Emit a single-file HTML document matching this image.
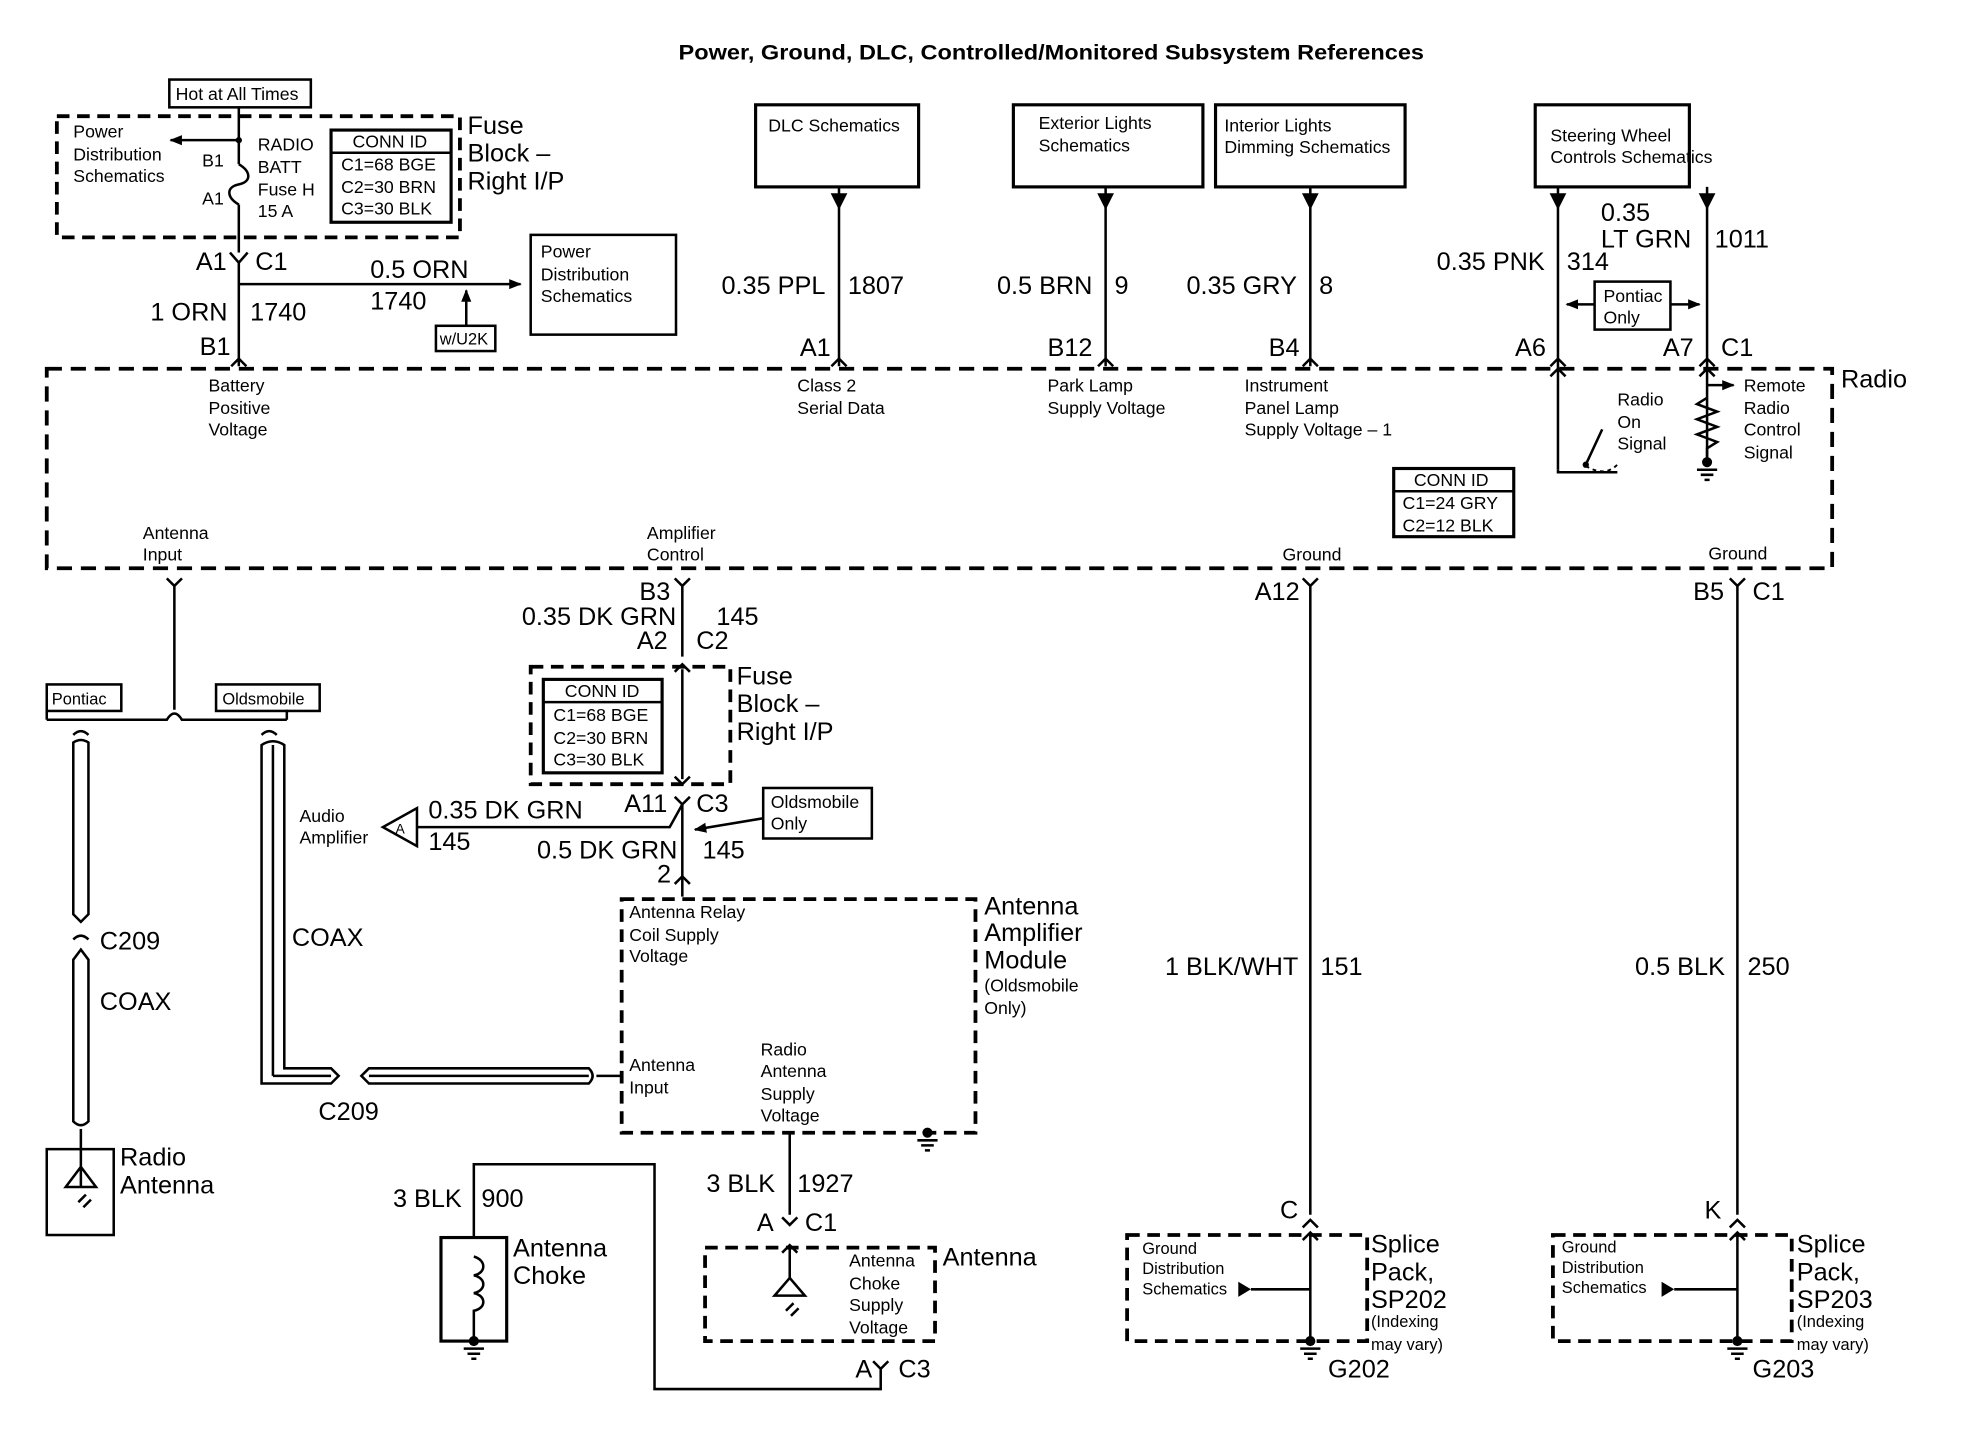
<!DOCTYPE html>
<html><head><meta charset="utf-8"><style>
html,body{margin:0;padding:0;background:#fff;}
svg{display:block;}
text{font-family:"Liberation Sans",sans-serif;fill:#000;}
.s{font-size:14px;}
.m{font-size:20px;}
.l{font-size:20px;}
</style></head><body>
<svg width="1980" height="1456" viewBox="0 0 1567 1153" preserveAspectRatio="none" xmlns="http://www.w3.org/2000/svg">
<defs>
<marker id="ar" markerWidth="10" markerHeight="10" refX="9" refY="5" orient="auto" markerUnits="userSpaceOnUse"><path d="M0,1 L10,5 L0,9 z" fill="#000"/></marker>
</defs>
<text x="537" y="47" textLength="590" lengthAdjust="spacingAndGlyphs" style="font-size:17px;font-weight:bold">Power, Ground, DLC, Controlled/Monitored Subsystem References</text>

<rect x="134" y="63" width="112" height="22" fill="none" stroke="#000" stroke-width="2"/>
<text x="139" y="79" class="s">Hot at All Times</text>
<rect x="45" y="92" width="319" height="96" fill="none" stroke="#000" stroke-width="3" stroke-dasharray="10,6"/>
<line x1="189" y1="85" x2="189" y2="130" stroke="#000" stroke-width="2"/>
<path d="M189,130 C199,136 199,144 189,146 C179,148 179,156 189,162" fill="none" stroke="#000" stroke-width="2"/>
<line x1="189" y1="162" x2="189" y2="200" stroke="#000" stroke-width="2"/>
<circle cx="189" cy="111" r="2.5"/>
<line x1="189" y1="111" x2="135" y2="111" stroke="#000" stroke-width="2" marker-end="url(#ar)"/>
<text x="58" y="109" class="s">Power</text><text x="58" y="127" class="s">Distribution</text><text x="58" y="144" class="s">Schematics</text>
<text x="160" y="132" class="s">B1</text><text x="160" y="162" class="s">A1</text>
<text x="204" y="119" class="s">RADIO</text><text x="204" y="137" class="s">BATT</text><text x="204" y="155" class="s">Fuse H</text><text x="204" y="172" class="s">15 A</text>
<rect x="262" y="103" width="95" height="73" fill="none" stroke="#000" stroke-width="2.5"/>
<line x1="262" y1="121" x2="357" y2="121" stroke="#000" stroke-width="2"/>
<text x="279" y="117" class="s">CONN ID</text><text x="270" y="135" class="s">C1=68 BGE</text><text x="270" y="153" class="s">C2=30 BRN</text><text x="270" y="170" class="s">C3=30 BLK</text>
<text x="370" y="106" class="l">Fuse</text><text x="370" y="128" class="l">Block –</text><text x="370" y="150" class="l">Right I/P</text>
<path d="M182,200 L189,208 L196,200 M189,208 L189,290" fill="none" stroke="#000" stroke-width="2"/>
<text x="155" y="214" class="m">A1</text><text x="202" y="214" class="m">C1</text>
<line x1="189" y1="225" x2="412" y2="225" stroke="#000" stroke-width="2" marker-end="url(#ar)"/>
<text x="293" y="220" class="m">0.5 ORN</text><text x="293" y="245" class="m">1740</text>
<rect x="345" y="258" width="47" height="20" fill="none" stroke="#000" stroke-width="2"/>
<text x="348" y="273" style="font-size:13px">w/U2K</text>
<line x1="369" y1="258" x2="369" y2="230" stroke="#000" stroke-width="2" marker-end="url(#ar)"/>
<rect x="420" y="186" width="115" height="79" fill="none" stroke="#000" stroke-width="2"/>
<text x="428" y="204" class="s">Power</text><text x="428" y="222" class="s">Distribution</text><text x="428" y="239" class="s">Schematics</text>
<text x="119" y="254" class="m">1 ORN</text><text x="198" y="254" class="m">1740</text><text x="158" y="281" class="m">B1</text>
<path d="M183,290 L189,284 L195,290" fill="none" stroke="#000" stroke-width="2"/>

<rect x="37" y="292" width="1413" height="158" fill="none" stroke="#000" stroke-width="3" stroke-dasharray="12,7"/>
<text x="1457" y="307" class="l">Radio</text>
<text x="165" y="310" class="s">Battery</text><text x="165" y="328" class="s">Positive</text><text x="165" y="345" class="s">Voltage</text>
<text x="631" y="310" class="s">Class 2</text><text x="631" y="328" class="s">Serial Data</text>
<text x="829" y="310" class="s">Park Lamp</text><text x="829" y="328" class="s">Supply Voltage</text>
<text x="985" y="310" class="s">Instrument</text><text x="985" y="328" class="s">Panel Lamp</text><text x="985" y="345" class="s">Supply Voltage – 1</text>

<g fill="none" stroke="#000" stroke-width="2.5">
<rect x="598" y="83" width="129" height="65"/>
<rect x="802" y="83" width="150" height="65"/>
<rect x="962" y="83" width="150" height="65"/>
<rect x="1215" y="83" width="122" height="65"/>
</g>
<text x="608" y="104" class="s">DLC Schematics</text>
<text x="822" y="102" class="s">Exterior Lights</text><text x="822" y="120" class="s">Schematics</text>
<text x="969" y="104" class="s">Interior Lights</text><text x="969" y="121" class="s">Dimming Schematics</text>
<text x="1227" y="112" class="s">Steering Wheel</text><text x="1227" y="129" class="s">Controls Schematics</text>
<g stroke="#000" stroke-width="2" fill="#000">
<line x1="664" y1="148" x2="664" y2="290"/><path d="M659,154 L669,154 L664,164 z"/>
<line x1="875" y1="148" x2="875" y2="290"/><path d="M870,154 L880,154 L875,164 z"/>
<line x1="1037" y1="148" x2="1037" y2="290"/><path d="M1032,154 L1042,154 L1037,164 z"/>
<line x1="1233" y1="148" x2="1233" y2="372"/><path d="M1228,154 L1238,154 L1233,164 z"/>
<line x1="1351" y1="148" x2="1351" y2="362"/><path d="M1346,154 L1356,154 L1351,164 z"/>
</g>
<g fill="none" stroke="#000" stroke-width="2">
<path d="M658,290 L664,284 L670,290"/><path d="M869,290 L875,284 L881,290"/><path d="M1031,290 L1037,284 L1043,290"/>
<path d="M1227,290 L1233,284 L1239,290"/><path d="M1345,290 L1351,284 L1357,290"/>
<path d="M1227,298 L1233,292 L1239,298"/><path d="M1345,298 L1351,292 L1357,298"/>
</g>
<text x="571" y="233" class="m">0.35 PPL</text><text x="671" y="233" class="m">1807</text>
<text x="789" y="233" class="m">0.5 BRN</text><text x="882" y="233" class="m">9</text>
<text x="939" y="233" class="m">0.35 GRY</text><text x="1044" y="233" class="m">8</text>
<text x="1137" y="214" class="m">0.35 PNK</text><text x="1240" y="214" class="m">314</text>
<text x="1267" y="175" class="m">0.35</text><text x="1267" y="196" class="m">LT GRN</text><text x="1357" y="196" class="m">1011</text>
<rect x="1262" y="223" width="60" height="38" fill="none" stroke="#000" stroke-width="2"/>
<text x="1269" y="239" class="s">Pontiac</text><text x="1269" y="256" class="s">Only</text>
<line x1="1262" y1="241" x2="1240" y2="241" stroke="#000" stroke-width="2" marker-end="url(#ar)"/>
<line x1="1322" y1="241" x2="1345" y2="241" stroke="#000" stroke-width="2" marker-end="url(#ar)"/>
<text x="633" y="282" class="m">A1</text><text x="829" y="282" class="m">B12</text><text x="1004" y="282" class="m">B4</text>
<text x="1199" y="282" class="m">A6</text><text x="1316" y="282" class="m">A7</text><text x="1362" y="282" class="m">C1</text>
<path d="M1233,372 L1233,374 L1280,374 M1255,368 L1268,340" fill="none" stroke="#000" stroke-width="2"/>
<path d="M1255,369 Q1270,378 1280,368" fill="none" stroke="#000" stroke-width="1.5" stroke-dasharray="3,3"/>
<circle cx="1255" cy="368" r="2.5"/>
<text x="1280" y="321" class="s">Radio</text><text x="1280" y="339" class="s">On</text><text x="1280" y="356" class="s">Signal</text>
<line x1="1351" y1="305" x2="1372" y2="305" stroke="#000" stroke-width="2" marker-end="url(#ar)"/>
<path d="M1351,315 L1343,320 L1359,326 L1343,332 L1359,338 L1343,344 L1359,350 L1351,355 L1351,365" fill="none" stroke="#000" stroke-width="2"/>
<circle cx="1351" cy="366" r="4" fill="#000"/>
<path d="M1343,372 L1359,372 M1346,376 L1356,376 M1349,380 L1353,380" stroke="#000" stroke-width="2"/>
<text x="1380" y="310" class="s">Remote</text><text x="1380" y="328" class="s">Radio</text><text x="1380" y="345" class="s">Control</text><text x="1380" y="363" class="s">Signal</text>
<rect x="1103" y="371" width="95" height="54" fill="none" stroke="#000" stroke-width="2.5"/>
<line x1="1103" y1="389" x2="1198" y2="389" stroke="#000" stroke-width="2"/>
<text x="1119" y="385" class="s">CONN ID</text><text x="1110" y="403" class="s">C1=24 GRY</text><text x="1110" y="421" class="s">C2=12 BLK</text>
<text x="113" y="427" class="s">Antenna</text><text x="113" y="444" class="s">Input</text>
<text x="512" y="427" class="s">Amplifier</text><text x="512" y="444" class="s">Control</text>
<text x="1015" y="444" class="s">Ground</text><text x="1352" y="443" class="s">Ground</text>

<g fill="none" stroke="#000" stroke-width="2">
<path d="M132,458 L138,464 L144,458 M138,464 L138,562"/>
<path d="M37,570 L132,570 Q138,560 144,570 L227,570"/>
<path d="M37,570 L37,560 M227,570 L227,562"/>
<path d="M534,458 L540,464 L546,458 M540,464 L540,520"/>
<path d="M1031,458 L1037,464 L1043,458 M1037,464 L1037,962"/>
<path d="M1369,458 L1375,464 L1381,458 M1375,464 L1375,962"/>
<line x1="540" y1="530" x2="540" y2="617"/>
<path d="M534,532 L540,526 L546,532 M534,615 L540,621 L546,615"/>
<path d="M534,631 L540,637 L546,631 M540,637 L540,710"/>
<path d="M540,637 L530,655 L330,655"/>
<path d="M534,700 L540,694 L546,700"/>
</g>
<text x="506" y="475" class="m">B3</text>
<text x="413" y="495" class="m">0.35 DK GRN</text><text x="567" y="495" class="m">145</text>
<text x="504" y="514" class="m">A2</text><text x="551" y="514" class="m">C2</text>
<rect x="420" y="528" width="158" height="93" fill="none" stroke="#000" stroke-width="3" stroke-dasharray="10,6"/>
<rect x="430" y="538" width="94" height="74" fill="none" stroke="#000" stroke-width="2.5"/>
<line x1="430" y1="556" x2="524" y2="556" stroke="#000" stroke-width="2"/>
<text x="447" y="552" class="s">CONN ID</text><text x="438" y="571" class="s">C1=68 BGE</text><text x="438" y="589" class="s">C2=30 BRN</text><text x="438" y="606" class="s">C3=30 BLK</text>
<text x="583" y="542" class="l">Fuse</text><text x="583" y="564" class="l">Block –</text><text x="583" y="586" class="l">Right I/P</text>
<text x="494" y="643" class="m">A11</text><text x="551" y="643" class="m">C3</text>
<text x="339" y="648" class="m">0.35 DK GRN</text><text x="339" y="673" class="m">145</text>
<path d="M330,640 L330,670 L303,655 z" fill="none" stroke="#000" stroke-width="2"/>
<text x="313" y="660" style="font-size:11px">A</text>
<text x="237" y="651" class="s">Audio</text><text x="237" y="668" class="s">Amplifier</text>
<rect x="604" y="624" width="86" height="40" fill="none" stroke="#000" stroke-width="2"/>
<text x="610" y="640" class="s">Oldsmobile</text><text x="610" y="657" class="s">Only</text>
<line x1="604" y1="648" x2="550" y2="657" stroke="#000" stroke-width="2" marker-end="url(#ar)"/>
<text x="425" y="680" class="m">0.5 DK GRN</text><text x="556" y="680" class="m">145</text><text x="520" y="699" class="m">2</text>

<rect x="37" y="542" width="59" height="21" fill="none" stroke="#000" stroke-width="2"/><text x="41" y="558" style="font-size:13px">Pontiac</text>
<rect x="171" y="542" width="82" height="21" fill="none" stroke="#000" stroke-width="2"/><text x="176" y="558" style="font-size:13px">Oldsmobile</text>

<g fill="none" stroke="#000" stroke-width="2">
<path d="M58,582 Q64,576 70,582"/>
<path d="M58,588 L58,724 L64,730 L70,724 L70,588 Q64,584 58,588 z"/>
<path d="M58,744 Q64,738 70,744"/>
<path d="M58,760 L58,888 Q64,894 70,888 L70,760 L64,752 z"/>
<line x1="64" y1="894" x2="64" y2="910"/>
<rect x="37" y="910" width="53" height="68"/>
<path d="M64,910 L64,940 M52,940 L64,924 L76,940 z M68,946 L62,952 M72,950 L66,956"/>
<path d="M207,582 Q213,576 219,582"/>
<path d="M207,590 L207,858 L262,858 L268,852 L262,846 L225,846 L225,590 Q216,584 207,590 z"/>
<line x1="216" y1="590" x2="216" y2="852"/><line x1="216" y1="852" x2="262" y2="852"/>
<path d="M292,846 L286,852 L292,858 L466,858 Q472,852 466,846 z"/>
<line x1="292" y1="852" x2="466" y2="852"/>
<line x1="472" y1="852" x2="492" y2="852"/>
</g>
<text x="79" y="752" class="m">C209</text><text x="79" y="800" class="m">COAX</text>
<text x="231" y="749" class="m">COAX</text><text x="252" y="887" class="m">C209</text>
<text x="95" y="923" class="l">Radio</text><text x="95" y="945" class="l">Antenna</text>

<rect x="492" y="712" width="280" height="185" fill="none" stroke="#000" stroke-width="3" stroke-dasharray="10,6"/>
<text x="498" y="727" class="s">Antenna Relay</text><text x="498" y="745" class="s">Coil Supply</text><text x="498" y="762" class="s">Voltage</text>
<text x="498" y="848" class="s">Antenna</text><text x="498" y="866" class="s">Input</text>
<text x="602" y="836" class="s">Radio</text><text x="602" y="853" class="s">Antenna</text><text x="602" y="871" class="s">Supply</text><text x="602" y="888" class="s">Voltage</text>
<text x="779" y="724" class="l">Antenna</text><text x="779" y="745" class="l">Amplifier</text><text x="779" y="767" class="l">Module</text>
<text x="779" y="785" class="s">(Oldsmobile</text><text x="779" y="803" class="s">Only)</text>
<circle cx="734" cy="897" r="4"/>
<path d="M726,903 L742,903 M729,907 L739,907 M732,911 L736,911" stroke="#000" stroke-width="2"/>
<g fill="none" stroke="#000" stroke-width="2">
<path d="M625,897 L625,962 M619,964 L625,970 L631,964"/>
<path d="M619,992 L625,986 L631,992 M625,986 L625,1012 M613,1026 L625,1012 L637,1026 z M628,1032 L622,1038 M632,1036 L626,1042"/>
<path d="M375,980 L375,922 L518,922 L518,1100 L697,1100 L697,1084 M691,1078 L697,1084 L703,1078"/>
</g>
<text x="559" y="944" class="m">3 BLK</text><text x="631" y="944" class="m">1927</text>
<text x="599" y="975" class="m">A</text><text x="637" y="975" class="m">C1</text>
<rect x="558" y="988" width="182" height="74" fill="none" stroke="#000" stroke-width="3" stroke-dasharray="10,6"/>
<text x="672" y="1003" class="s">Antenna</text><text x="672" y="1021" class="s">Choke</text><text x="672" y="1038" class="s">Supply</text><text x="672" y="1056" class="s">Voltage</text>
<text x="746" y="1002" class="l">Antenna</text>
<text x="677" y="1091" class="m">A</text><text x="711" y="1091" class="m">C3</text>
<text x="311" y="956" class="m">3 BLK</text><text x="381" y="956" class="m">900</text>
<rect x="349" y="980" width="52" height="82" fill="none" stroke="#000" stroke-width="2.5"/>
<path d="M375,995 C385,998 385,1008 375,1010 C385,1012 385,1022 375,1024 C385,1026 385,1036 375,1038 L375,1062" fill="none" stroke="#000" stroke-width="2"/>
<circle cx="375" cy="1062" r="4"/>
<path d="M367,1068 L383,1068 M370,1072 L380,1072 M373,1076 L377,1076" stroke="#000" stroke-width="2"/>
<text x="406" y="995" class="l">Antenna</text><text x="406" y="1017" class="l">Choke</text>

<text x="922" y="772" class="m">1 BLK/WHT</text><text x="1045" y="772" class="m">151</text>
<text x="1294" y="772" class="m">0.5 BLK</text><text x="1383" y="772" class="m">250</text>
<text x="993" y="475" class="m">A12</text>
<text x="1340" y="475" class="m">B5</text><text x="1387" y="475" class="m">C1</text>
<text x="1013" y="965" class="m">C</text><text x="1349" y="965" class="m">K</text>
<g fill="none" stroke="#000" stroke-width="2">
<path d="M1031,972 L1037,966 L1043,972 M1037,976 L1037,1062"/>
<path d="M1369,972 L1375,966 L1381,972 M1375,976 L1375,1062"/>
<path d="M1031,982 L1037,976 L1043,982 M1369,982 L1375,976 L1381,982"/>
<line x1="1037" y1="1021" x2="990" y2="1021"/>
<line x1="1375" y1="1021" x2="1325" y2="1021"/>
</g>
<path d="M980,1015 L990,1021 L980,1027 z M1315,1015 L1325,1021 L1315,1027 z" fill="#000"/>
<rect x="892" y="978" width="190" height="84" fill="none" stroke="#000" stroke-width="3" stroke-dasharray="10,6"/>
<rect x="1229" y="978" width="189" height="84" fill="none" stroke="#000" stroke-width="3" stroke-dasharray="10,6"/>
<circle cx="1037" cy="1062" r="4"/><circle cx="1375" cy="1062" r="4"/>
<path d="M1029,1068 L1045,1068 M1032,1072 L1042,1072 M1035,1076 L1039,1076 M1367,1068 L1383,1068 M1370,1072 L1380,1072 M1373,1076 L1377,1076" stroke="#000" stroke-width="2"/>
<text x="904" y="993" style="font-size:13px">Ground</text><text x="904" y="1009" style="font-size:13px">Distribution</text><text x="904" y="1025" style="font-size:13px">Schematics</text>
<text x="1236" y="992" style="font-size:13px">Ground</text><text x="1236" y="1008" style="font-size:13px">Distribution</text><text x="1236" y="1024" style="font-size:13px">Schematics</text>
<text x="1085" y="992" class="l">Splice</text><text x="1085" y="1014" class="l">Pack,</text><text x="1085" y="1036" class="l">SP202</text>
<text x="1085" y="1051" style="font-size:13px">(Indexing</text><text x="1085" y="1069" style="font-size:13px">may vary)</text>
<text x="1422" y="992" class="l">Splice</text><text x="1422" y="1014" class="l">Pack,</text><text x="1422" y="1036" class="l">SP203</text>
<text x="1422" y="1051" style="font-size:13px">(Indexing</text><text x="1422" y="1069" style="font-size:13px">may vary)</text>
<text x="1051" y="1091" class="m">G202</text><text x="1387" y="1091" class="m">G203</text>
</svg>
</body></html>
